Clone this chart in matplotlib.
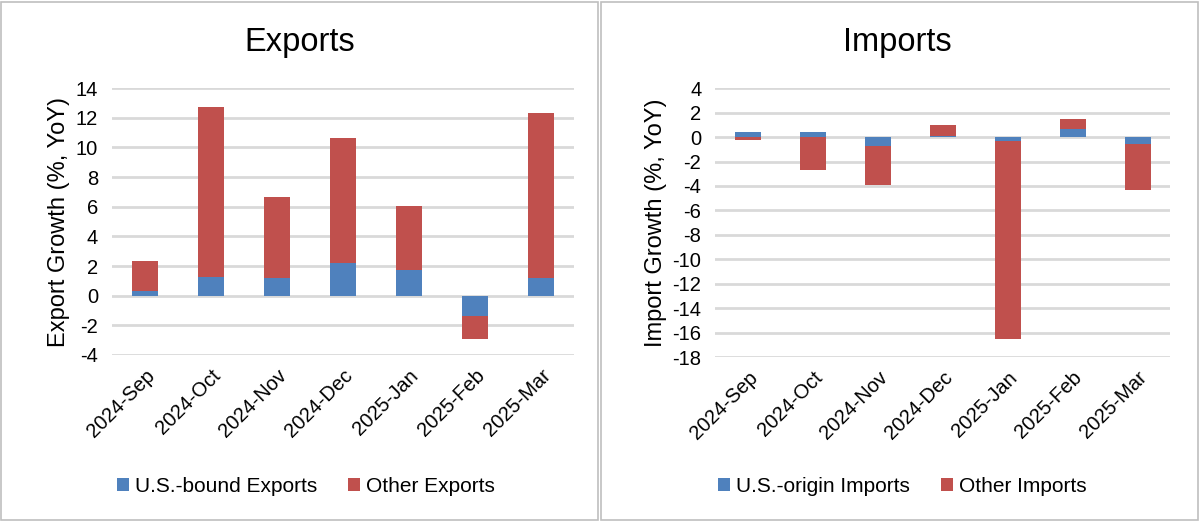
import numpy as np
import matplotlib.pyplot as plt
from matplotlib.patches import Rectangle

plt.rcParams["font.family"] = ["Liberation Sans", "DejaVu Sans"]
plt.rcParams["axes.unicode_minus"] = False

months = ["2024-Sep", "2024-Oct", "2024-Nov", "2024-Dec", "2025-Jan", "2025-Feb", "2025-Mar"]

# exports, % YoY contributions
us_exports = [0.3, 1.25, 1.2, 2.2, 1.7, -1.35, 1.2]
other_exports = [2.05, 11.45, 5.45, 8.45, 4.35, -1.55, 11.15]

# imports, % YoY contributions
us_imports = [0.4, 0.4, -0.7, 0.1, -0.3, 0.65, -0.55]
other_imports = [-0.2, -2.7, -3.25, 0.9, -16.2, 0.8, -3.8]

BLUE = "#4F81BD"
RED = "#C0504D"
GRID = "#D9D9D9"


def stacked(ax, a, b, la, lb):
    # excel style: positives stack up, negatives stack down
    x = np.arange(len(months))
    a = np.array(a)
    b = np.array(b)
    ax.bar(x, a, width=0.4, color=BLUE, label=la, zorder=3)
    bot = np.where(np.sign(b) == np.sign(a), a, 0)
    ax.bar(x, b, width=0.4, bottom=bot, color=RED, label=lb, zorder=3)
    ax.set_xticks(x)
    ax.set_xticklabels(months, rotation=45, ha="right", rotation_mode="anchor", fontsize=14.5)
    ax.set_xlim(-0.5, len(months) - 0.5)
    for s in ax.spines.values():
        s.set_visible(False)
    ax.yaxis.grid(True, color=GRID, linewidth=2, zorder=0)
    ax.tick_params(length=0, labelsize=14.5, pad=10)
    ax.tick_params(axis="x", pad=8)


fig = plt.figure(figsize=(12, 5.22), dpi=100)

ax1 = fig.add_axes([0.0933, 0.320, 0.385, 0.511])
stacked(ax1, us_exports, other_exports, "U.S.-bound Exports", "Other Exports")
ax1.set_ylim(-4, 14)
ax1.set_yticks(range(-4, 15, 2))
ax1.set_ylabel("Export Growth (%, YoY)", fontsize=17, labelpad=4)

ax2 = fig.add_axes([0.596, 0.316, 0.379, 0.515])
stacked(ax2, us_imports, other_imports, "U.S.-origin Imports", "Other Imports")
ax2.set_ylim(-18, 4)
ax2.set_yticks(range(-18, 5, 2))
ax2.set_ylabel("Import Growth (%, YoY)", fontsize=17, labelpad=4)

fig.text(0.25, 0.918, "Exports", ha="center", va="center", fontsize=23.5)
fig.text(0.748, 0.918, "Imports", ha="center", va="center", fontsize=23.5)

for ax, cx in [(ax1, 0.255), (ax2, 0.752)]:
    ax.legend(loc="center", bbox_to_anchor=(cx, 0.068), bbox_transform=fig.transFigure,
              ncol=2, frameon=False, fontsize=15, handlelength=0.55, handleheight=0.55,
              handletextpad=0.3, columnspacing=1.5)

# panel borders
for x0 in (0.001, 0.501):
    fig.add_artist(Rectangle((x0, 0.003), 0.497, 0.994, transform=fig.transFigure,
                             fill=False, edgecolor="#BFBFBF", linewidth=1.2))

fig.savefig("out.png", dpi=100)
